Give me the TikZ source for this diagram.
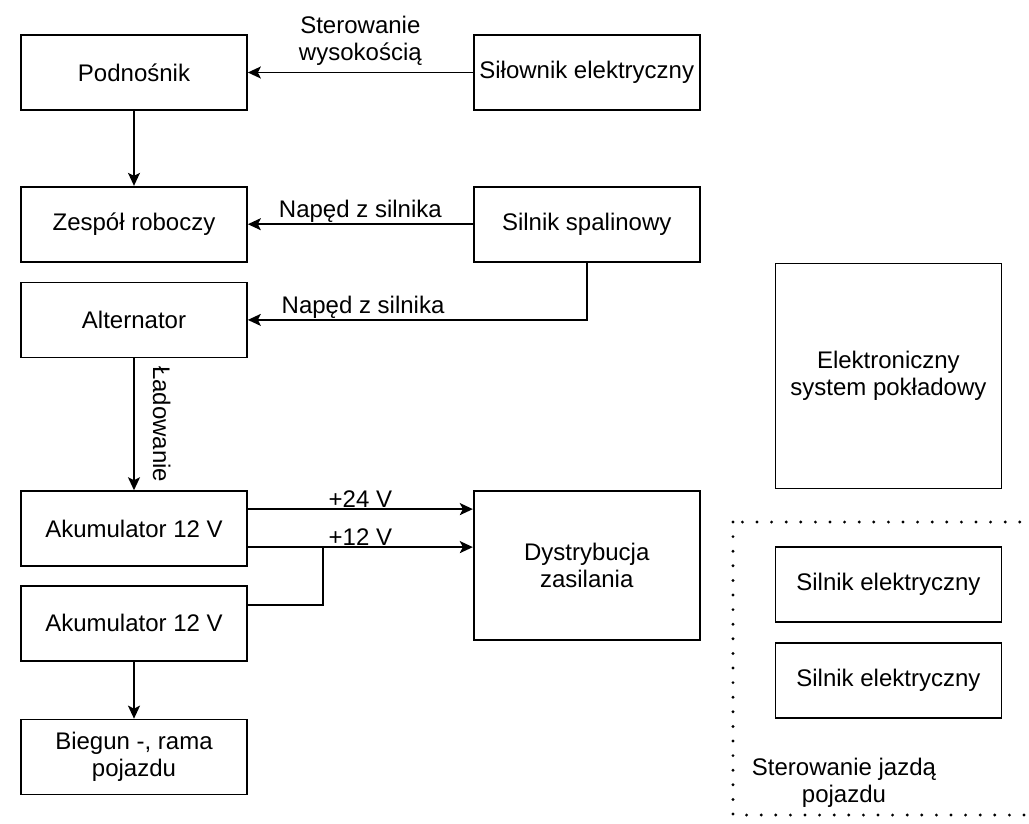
\documentclass[tikz,border=0pt]{standalone}
\usepackage{fontspec}
\setmainfont{Liberation Sans}
\usetikzlibrary{positioning,arrows.meta}

\begin{document}
\begin{tikzpicture}[
	x=1pt,y=1pt,
	font=\fontsize{24}{27}\selectfont,
	line width=1.7pt,
	inner sep=2pt,
	mybox/.style={draw,rectangle,minimum width=226pt,minimum height=75pt,align=center},
	strzalka/.style={-{Stealth[length=13pt,width=12pt,inset=3pt]}},
	ramka/.style={line width=3.2pt,dash pattern=on 0pt off 14.6pt,line cap=round}
	]
	\useasboundingbox (0,0) rectangle (1029,-823);
	\node[mybox] (podnosnik) at (134,-72.5) {Podnośnik};
	\node[mybox,right=225pt of podnosnik] (silownik) {Siłownik elektryczny};
	\node[mybox,below=75pt of podnosnik] (zespol) {Zespół roboczy};
	\node[mybox,right=225pt of zespol] (spalinowy) {Silnik spalinowy};
	\node[mybox,below=19pt of zespol] (alternator) {Alternator};
	\node[mybox,below=132pt of alternator] (akum1) {Akumulator 12 V};
	\node[mybox,below=18pt of akum1] (akum2) {Akumulator 12 V};
	\node[mybox,below=57pt of akum2] (biegun) {Biegun -, rama\\pojazdu};
	\node[mybox,minimum height=149pt,right=225pt of akum1.north east,anchor=north west] (dystr) {Dystrybucja\\zasilania};
	\node[mybox,minimum height=225pt,right=74pt of spalinowy.south east,anchor=north west] (elektr) {Elektroniczny\\system pokładowy};
	\node[mybox,below=57pt of elektr] (silnik1) {Silnik elektryczny};
	\node[mybox,below=19pt of silnik1] (silnik2) {Silnik elektryczny};
	% sterowanie jazda
	\draw[ramka] (733,-522) rectangle (1036,-815);
	\node[align=center] (jazda) at (844,-783) {Sterowanie jazdą\\pojazdu};
	\path [strzalka]
	(silownik) edge node[above=4pt,align=center] {Sterowanie\\wysokością} (podnosnik)
	(podnosnik) edge (zespol)
	(spalinowy) edge node[above,inner sep=1pt] {Napęd z silnika} (zespol)
	(alternator) edge node[midway,rotate=-90,anchor=south,inner ysep=18pt] {Ładowanie} (akum1)
	(akum2) edge (biegun);
	\draw[strzalka] (spalinowy.south) |- node[pos=0.83,above,inner sep=1pt] {Napęd z silnika} (alternator.east);
	\draw[strzalka] ([yshift=19.5pt]akum1.east) -- node[above,inner sep=1pt] {+24 V} ([yshift=19.5pt]akum1.east -| dystr.west);
	\draw[strzalka] ([yshift=-18.5pt]akum1.east) -- node[above,inner sep=1pt] {+12 V} ([yshift=-18.5pt]akum1.east -| dystr.west);
	\coordinate[right=75pt of akum1.east,yshift=-18.5pt] (wezel);
	\draw ([yshift=18.5pt]akum2.east) -| (wezel);
\end{tikzpicture}
\end{document}
